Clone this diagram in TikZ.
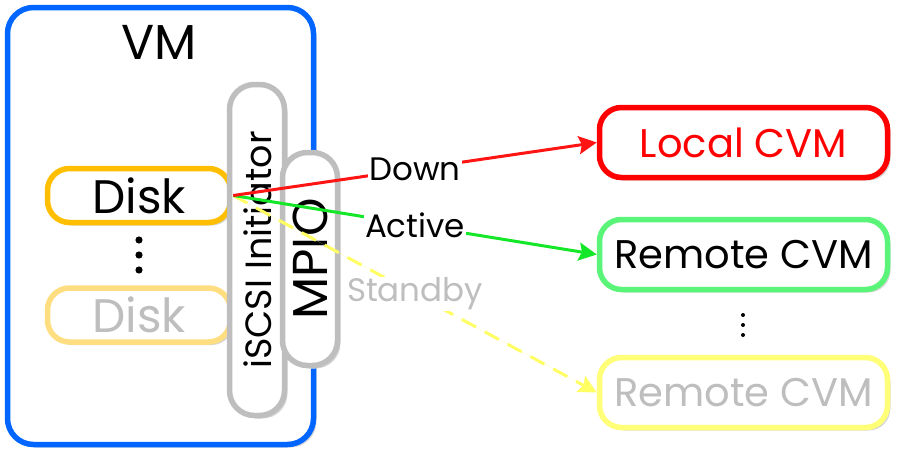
\documentclass[tikz,border=0pt]{standalone}
\usepackage{fontspec}
\setmainfont{Poppins}
\usetikzlibrary{arrows.meta,shadows}
\definecolor{vmblue}{RGB}{0,102,255}
\definecolor{diskor}{RGB}{255,190,0}
\definecolor{disklt}{RGB}{255,222,130}
\definecolor{boxgray}{RGB}{190,190,190}
\definecolor{txtgray}{RGB}{190,190,190}
\definecolor{cvmred}{RGB}{255,0,0}
\definecolor{cvmgreen}{RGB}{90,245,120}
\definecolor{cvmyellow}{RGB}{255,255,120}
\definecolor{lnred}{RGB}{255,20,20}
\definecolor{lngreen}{RGB}{20,230,40}
\definecolor{lnyellow}{RGB}{255,255,100}
\tikzset{
  shbox/.style={draw, line width=5.5pt, fill=white, inner sep=0pt,
    drop shadow={shadow xshift=3pt, shadow yshift=-3pt, fill=black!16, opacity=1}},
  diskbox/.style={shbox, rounded corners=22pt, minimum width=183pt, minimum height=54pt,
    font=\fontsize{47}{50}\selectfont},
  cvmbox/.style={shbox, rounded corners=22pt, minimum width=288pt, minimum height=70pt,
    font=\fontsize{40}{44}\selectfont},
  pillbox/.style={shbox, draw=boxgray, rounded corners=25pt, minimum width=55pt},
  conn/.style={line width=3pt, -{Stealth[length=18pt,width=18pt,inset=3pt]}},
  lbl/.style={fill=white, inner sep=1pt, font=\fontsize{32.5}{34}\selectfont}
}
\begin{document}
\begin{tikzpicture}[x=1pt,y=-1pt]
\useasboundingbox (0,0) rectangle (898,455);
% VM
\node[shbox, draw=vmblue, rounded corners=26pt, minimum width=306pt, minimum height=437pt] (vm) at (160.5,226) {};
\node[font=\fontsize{49}{52}\selectfont] (vmlabel) at (159,42) {VM};
% disks
\node[diskbox, draw=diskor] (disk1) at (139,195.5) {Disk};
\node[diskbox, draw=disklt, text=txtgray] (disk2) at (139,315) {Disk};
\fill (139,240) circle (3.6pt) (139,255) circle (3.6pt) (139,270) circle (3.6pt);
% iSCSI and MPIO
\node[pillbox, minimum height=331pt] (iscsi) at (257,250) {};
\node[rotate=90, font=\fontsize{36.5}{38}\selectfont] (iscsitxt) at (258,250) {iSCSI Initiator};
\node[pillbox, minimum height=213pt] (mpio) at (310,259) {};
\node[rotate=90, font=\fontsize{49}{50}\selectfont] (mpiotxt) at (310,259) {MPIO};
% CVMs
\node[cvmbox, draw=cvmred, text=cvmred] (local) at (743.5,142.5) {Local CVM};
\node[cvmbox, draw=cvmgreen] (remote1) at (743.5,254.5) {Remote CVM};
\node[cvmbox, draw=cvmyellow, text=txtgray] (remote2) at (743.5,392.5) {Remote CVM};
\fill (743,315) circle (2pt) (743,325) circle (2pt) (743,335) circle (2pt);
% connectors
\draw[conn, draw=lnyellow, fill=lnyellow, dash pattern=on 16pt off 10pt] (disk1.east) -- node[lbl, text=txtgray] (lstandby) {Standby} (remote2.west);
\draw[conn, draw=lngreen, fill=lngreen] (disk1.east) -- node[lbl] (lactive) {Active} (remote1.west);
\draw[conn, draw=lnred, fill=lnred] (disk1.east) -- node[lbl] (ldown) {Down} (local.west);
\end{tikzpicture}
\end{document}
